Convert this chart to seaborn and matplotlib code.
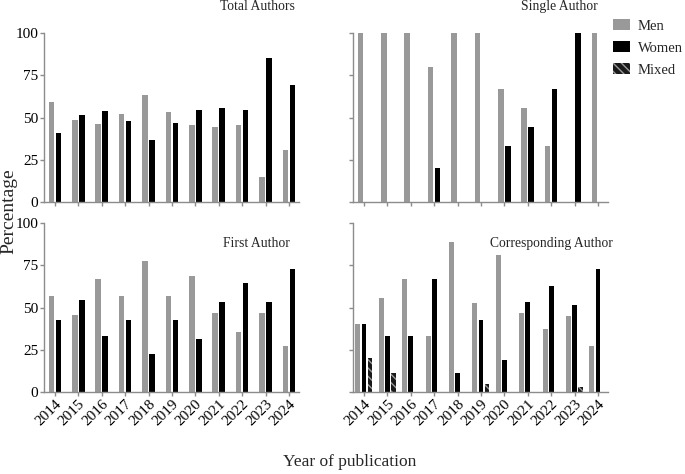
import pandas as pd
import numpy as np
import matplotlib
matplotlib.use("Agg")
import matplotlib.pyplot as plt
import matplotlib.patches as mpatches
import seaborn as sns

# data (percent)
years = ["2014", "2015", "2016", "2017", "2018", "2019", "2020", "2021", "2022", "2023", "2024"]

total_men = [59, 48.5, 46, 52, 63.5, 53, 45.5, 44.5, 45.5, 15, 31]
total_women = [41, 51.5, 54, 48, 36.5, 47, 54.5, 55.5, 54.5, 85, 69]

single_men = [100, 100, 100, 80, 100, 100, 66.7, 55.6, 33.3, 0, 100]
single_women = [0, 0, 0, 20, 0, 0, 33.3, 44.4, 66.7, 100, 0]

first_men = [57.1, 45.5, 66.7, 57.1, 77.8, 57.1, 68.8, 46.7, 35.7, 46.7, 27.3]
first_women = [42.9, 54.5, 33.3, 42.9, 22.2, 42.9, 31.2, 53.3, 64.3, 53.3, 72.7]

corr_men = [40, 55.6, 66.7, 33.3, 88.9, 52.4, 81.3, 46.7, 37.5, 45.2, 27.3]
corr_women = [40, 33.3, 33.3, 66.7, 11.1, 42.9, 18.7, 53.3, 62.5, 51.6, 72.7]
corr_mixed = [20, 11.1, 0, 0, 0, 4.8, 0, 0, 0, 3.2, 0]

groups = ["Men", "Women", "Mixed"]
colors = {"Men": "#999999", "Women": "#000000", "Mixed": "#1a1a1a"}

sns.set_theme(style="ticks")
plt.rcParams["font.family"] = ["Liberation Serif", "DejaVu Serif"]
plt.rcParams["hatch.color"] = "#9a9a9a"
plt.rcParams["hatch.linewidth"] = 1.0


def long_df(series):
    rows = []
    for g, vals in series.items():
        for y, v in zip(years, vals):
            rows.append({"year": y, "group": g, "pct": v})
    return pd.DataFrame(rows)


panels = [
    ("Total Authors", {"Men": total_men, "Women": total_women}, [0.0642, 0.5738], (0.984, 1.16)),
    ("Single Author", {"Men": single_men, "Women": single_women}, [0.5153, 0.5738], (0.96, 1.16)),
    ("First Author", {"Men": first_men, "Women": first_women}, [0.0642, 0.1730], (0.965, 0.876)),
    ("Corresponding Author", {"Men": corr_men, "Women": corr_women, "Mixed": corr_mixed},
     [0.5153, 0.1730], (1.02, 0.876)),
]

fig = plt.figure(figsize=(6.85, 4.74), dpi=100)

for i, (title, series, pos, tpos) in enumerate(panels):
    ax = fig.add_axes([pos[0], pos[1], 0.3723, 0.3565])
    df = long_df(series)
    width = 0.78 if len(series) == 3 else 0.6
    sns.barplot(data=df, x="year", y="pct", hue="group", hue_order=list(series.keys()),
                palette=colors, width=width, gap=0.2, linewidth=0, saturation=1,
                legend=False, ax=ax)
    if "Mixed" in series:
        for bar in ax.containers[2]:
            bar.set_hatch("\\\\\\\\")
            bar.set_edgecolor("#9a9a9a")
            bar.set_linewidth(0)
    ax.set_ylim(0, 100)
    ax.set_xlim(-0.47, 10.43)
    ax.set_yticks([0, 25, 50, 75, 100])
    ax.set_xlabel("")
    ax.set_ylabel("")
    for s in ["top", "right"]:
        ax.spines[s].set_visible(False)
    for s in ["left", "bottom"]:
        ax.spines[s].set_color("#8c8c8c")
        ax.spines[s].set_linewidth(1.0)
    ax.tick_params(colors="#8c8c8c", labelcolor="black", length=3, width=1, labelsize=11, pad=1)
    if i % 2 == 1:
        ax.set_yticklabels([])
    if i < 2:
        ax.set_xticklabels([])
    else:
        plt.setp(ax.get_xticklabels(), rotation=45, ha="right", rotation_mode="anchor")
    ax.text(tpos[0], tpos[1], title, transform=ax.transAxes, ha="right", va="center", fontsize=9.8)

handles = [mpatches.Patch(facecolor=colors[g], edgecolor="#9a9a9a" if g == "Mixed" else colors[g],
                          linewidth=0, hatch="\\\\\\\\" if g == "Mixed" else None, label=g)
           for g in groups]
fig.legend(handles=handles, loc="upper left", bbox_to_anchor=(0.886, 0.972), frameon=False,
           fontsize=10.5, handlelength=1.2, handleheight=0.75, handletextpad=0.5, labelspacing=0.6,
           borderpad=0.2, borderaxespad=0.2)

fig.text(0.013, 0.555, "Percentage", rotation=90, ha="center", va="center", fontsize=14)
fig.text(0.51, 0.025, "Year of publication", ha="center", va="center", fontsize=12.5)

fig.savefig("out.png", dpi=100)
